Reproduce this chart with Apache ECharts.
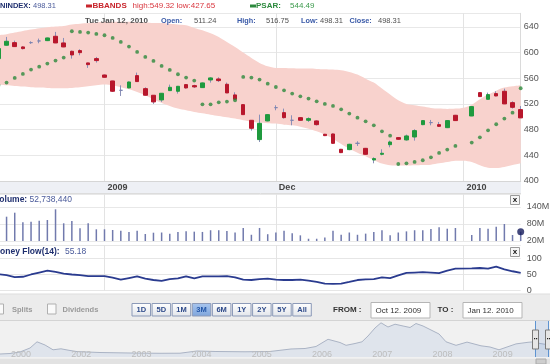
<!DOCTYPE html>
<html><head><meta charset="utf-8">
<script src="https://cdn.jsdelivr.net/npm/echarts@6/dist/echarts.min.js"></script>
<style>html,body{margin:0;padding:0;background:#fff}#c{width:550px;height:364px}</style>
</head><body><div id="c"></div>
<script>
// ---------- data ----------
const dates = ['2009-10-14','2009-10-15','2009-10-16','2009-10-19','2009-10-20','2009-10-21','2009-10-22','2009-10-23','2009-10-26','2009-10-27','2009-10-28','2009-10-29','2009-10-30',
'2009-11-02','2009-11-03','2009-11-04','2009-11-05','2009-11-06','2009-11-09','2009-11-10','2009-11-11','2009-11-12','2009-11-13','2009-11-16','2009-11-17','2009-11-18','2009-11-19','2009-11-20','2009-11-23','2009-11-24','2009-11-25','2009-11-26','2009-11-27','2009-11-30',
'2009-12-01','2009-12-02','2009-12-03','2009-12-04','2009-12-07','2009-12-08','2009-12-09','2009-12-10','2009-12-11','2009-12-14','2009-12-15','2009-12-16','2009-12-17','2009-12-18','2009-12-21','2009-12-22','2009-12-23','2009-12-24','2009-12-25','2009-12-28','2009-12-29','2009-12-30','2009-12-31',
'2010-01-01','2010-01-04','2010-01-05','2010-01-06','2010-01-07','2010-01-08','2010-01-11','2010-01-12'];
const monthTickDates = ['2009-11-02','2009-12-01','2010-01-01'];
const monthTickLabels = ['2009','Dec','2010'];

const open = [590.7,611.5,615.6,608.9,615.6,618.2,618.7,625.5,615.1,602.1,603.2,584.0,590.7,565.2,555.9,541.3,545.0,564.2,543.9,533.6,526.3,540.8,539.8,550.2,548.6,545.5,557.4,559.0,550.7,534.1,519.0,494.6,464.5,493.6,514.3,506.5,494.6,498.7,494.6,493.6,472.8,473.3,449.4,448.9,458.7,450.9,432.8,441.6,456.6,467.6,464.0,468.6,487.8,491.0,487.8,483.1,502.4,null,501.3,537.7,527.3,536.2,539.8,522.1,511.24];
const close = [606.3,617.7,609.4,606.3,615.6,618.2,622.9,615.1,608.9,596.4,600.0,581.3,587.6,561.6,539.8,541.3,554.3,554.9,533.6,523.2,536.7,546.0,547.6,545.0,546.6,552.8,560.6,556.4,537.2,527.3,503.4,482.1,489.9,503.4,514.3,498.7,494.6,494.6,497.2,487.8,470.7,458.7,444.2,457.2,458.7,441.6,434.9,443.2,460.8,465.0,470.2,478.5,494.1,491.0,485.2,494.1,494.1,null,515.9,531.5,534.6,532.5,520.1,514.8,498.31];
const low = [589,611,609,605,613.6,614.6,618,614.8,608.5,590.7,595.9,576.2,584.5,561,538.7,532.5,544.5,554.6,533.3,520.1,523.2,540.5,536.2,544,545,545,553.3,554.3,537,525.8,503,478.5,460.8,493,510.2,497.2,486.8,494,492.0,486.5,470,458,443.5,448,454.6,441,427.6,440.0,452.5,464.5,462.9,462.9,487,486.8,484.2,482.5,493.5,null,501,531,527,532,519.8,512.8,498.31];
const high = [608,624.5,618.7,610,617.7,621.9,623.5,632.3,622.9,603.2,605.3,584.2,593.3,566,556.2,549.1,555,568.9,546.0,533.9,537,550.2,548,551,550,553.5,561.6,561.6,553.3,538.2,519.5,495,503.4,504,518,512.8,502.4,499.5,499.2,494.5,473.5,474,450,458,461.9,451.5,436.9,449.4,462.9,468.5,472.3,480.6,495,495.1,492.0,494.5,503,null,516.5,538.3,537.7,539.8,543.9,524.2,516.75];

const bbUpper = [627.1,628.6,631.2,633.8,635.9,638.0,639.5,640.6,641.6,644,645,646,647,648,648,648,648,647,647,646,646,645,644,642.6,638.5,634.9,630.2,624.5,616.7,608.9,600.1,591.7,584.0,578.8,576.2,576.2,575.6,575.1,575.1,574.6,574.1,573.6,572.5,569.9,565.8,559.5,553.3,544.0,534.6,525.8,520.0,518.0,515.9,513.8,512.8,512.3,512.8,514.3,519.0,527.3,534.6,540.8,545.5,547.6,549.32];
const bbLower = [550.2,549.1,548.1,547.1,546.0,545.5,545.0,544.5,544.5,545.0,546.0,547.6,549.1,550.2,549.1,546.0,542.9,538.7,533.6,527.3,521.6,516.9,512.8,510.2,507.6,505.5,503.4,501.3,499.3,497.2,494.6,492.5,491.0,489.9,489.4,487.8,486.8,484.7,481.6,477.4,472.3,466.0,457.7,450.4,444.2,438.5,432.3,427.1,424.5,424.0,424.0,424.5,425.0,425.5,427.6,429.6,431.7,431.7,429.6,424.5,420.8,420.3,421.9,425.0,427.65];
const psar = [549.2,553.3,560.6,566.8,573.6,578.2,582.9,587.6,592.3,633.3,632.3,631.2,629.1,627.1,622.9,616.7,609.4,601.1,593.3,587.1,579.3,573.0,566.3,561.1,556.4,519.5,519.5,522.6,523.7,525.8,562.1,561.1,558.0,551.7,546.5,541.3,536.2,532.0,528.4,524.2,520.1,517.0,511.7,505.0,498.7,493.0,486.8,477.4,470.7,426.5,427.6,429.7,432.3,436.9,443.7,448.9,454.6,null,459.8,468.1,479.0,488.4,497.2,506.5,544.49];
const volumeM = [80,105.8,119.9,86.0,88.1,91.7,94.1,131.9,82.5,90.6,64.8,82.5,61.3,61.3,58.8,56.4,51.8,56.4,44.7,49.3,50,46,52,54,53,52,58,58,55,50,66,42,66,44,50,56,47,40,28,28,32,56,42,50,42,46,52,58,40,50,54,58,58,62,68.4,63.4,65.9,null,41.2,65.9,63.4,70.5,80.0,41.2,52.73844];
const moneyFlow = [51,48,42,43,50,56,62,58,53,50,48,45,45,45,40,34,39,44,37,33,30,36,38,44,38,44,44,44,45,41,34,33,36,37,34,33,33,34,31,27,22,21,22,27,33,35,36,41,39,47,55,56,57,56,54,62,68,null,69,70,68,74,66,60,55.18];

const navT = [-0.349,-0.183,-0.017,0.150,0.266,0.399,0.532,0.664,0.814,0.930,1.312,1.811,2.309,2.641,2.924,3.223,3.721,4.136,4.485,4.718,4.900,5.100,5.299,5.399,5.548,5.664,5.764,5.880,5.980,6.096,6.213,6.346,6.462,6.561,6.678,6.827,6.944,7.060,7.226,7.409,7.641,7.791,7.940,8.073,8.223,8.422,8.522,8.621,8.787];
const navV = [108,126,181,325,549,433,260,296,235,195,162,144,134,137,217,199,188,199,289,307,379,639,523,422,487,549,758,1047,1235,1083,1184,1119,1065,1209,1119,957,830,549,422,538,404,361,260,361,473,531,549,487,433];
const navTickLabels = ['2000','2002','2003','2004','2005','2006','2007','2008','2009'];
const rangeButtons = ['1D','5D','1M','3M','6M','1Y','2Y','5Y','All'];

// ---------- build ----------
const FONT = 'Liberation Sans, Arial, sans-serif';
const last = dates.length - 1;
const wickData = open.map((o,i) => o == null ? ['-','-','-','-'] : [o, close[i], low[i], high[i]]);
const bodyData = open.map((o,i) => o == null ? ['-','-','-','-'] : [o, close[i], Math.min(o,close[i]), Math.max(o,close[i])]);
const bandDiff = bbUpper.map((u,i) => +(u - bbLower[i]).toFixed(2));
const volData = volumeM.map(v => v == null ? '-' : v * 1e6);
const volDot = volumeM.map((v,i) => i === last ? v * 1e6 : '-');
const isMonth = (idx, val) => monthTickDates.indexOf(val) >= 0;

const chart = echarts.init(document.getElementById('c'), null, {renderer:'canvas'});

const grids = [
  {left:-1.6, right:29.3, top:13.3, height:167.7},
  {left:-1.6, right:29.3, top:194, height:47},
  {left:-1.6, right:29.3, top:245, height:45.7},
  {left:0, right:0, top:321, height:36}
].map(g => Object.assign({containLabel:false, outerBoundsMode:'none'}, g));

const catAxis = (gi, showLabel) => ({
  type:'category', gridIndex:gi, data:dates, boundaryGap:false,
  axisLine:{show:gi===0, lineStyle:{color:'#d6d6d6'}},
  axisTick:{show:false},
  axisLabel:{show:showLabel, interval:isMonth, align:'left', padding:[0,0,0,3], margin:2,
    fontFamily:FONT, fontSize:9, fontWeight:'bold', color:'#444',
    formatter:(v)=> monthTickLabels[monthTickDates.indexOf(v)] || ''},
  splitLine:{show:true, interval:isMonth, lineStyle:{color:'#e3e3e3', width:1}}
});

const gfx = [];
function txt(x,y,text,font,fill,align){ gfx.push({type:'text', z:100, silent:true, style:{x,y,text,font,fill,align:align||'left',verticalAlign:'middle'}}); }
function rect(x,y,w,h,fill,stroke,z){ gfx.push({type:'rect', z:z==null?-1:z, silent:true, shape:{x,y,width:w,height:h}, style:{fill, stroke:stroke||null, lineWidth:1}}); }
function line(x1,y1,x2,y2,stroke,z){ gfx.push({type:'line', z:z==null?50:z, silent:true, shape:{x1,y1,x2,y2}, style:{stroke, lineWidth:1}}); }

// header row 1
txt(0,6,'NINDEX:','bold 7.5px '+FONT,'#1f2f6f');
txt(33,6,close[last].toFixed(2),'7.5px '+FONT,'#4a5a9a');
rect(86,4.5,6,3,'#c8252c',null,100);
txt(92.5,6,'BBANDS','bold 8px '+FONT,'#c8252c');
txt(132.5,6,'high:'+bbUpper[last].toFixed(2)+' low:'+bbLower[last].toFixed(2),'8px '+FONT,'#d9363e');
rect(250,4.5,6,3,'#2d8a3e',null,100);
txt(256,6,'PSAR:','bold 8px '+FONT,'#2d8a3e');
txt(290,6,psar[last].toFixed(2),'8px '+FONT,'#3c9a4c');
// header row 2
txt(85,20.5,'Tue Jan 12, 2010','bold 8px '+FONT,'#505050');
txt(161,20.5,'Open:','bold 7.3px '+FONT,'#3a5aa8');
txt(194,20.5,open[last].toFixed(2),'7.5px '+FONT,'#505050');
txt(237,20.5,'High:','bold 7.3px '+FONT,'#3a5aa8');
txt(266,20.5,high[last].toFixed(2),'7.5px '+FONT,'#505050');
txt(301,20.5,'Low:','bold 7.3px '+FONT,'#3a5aa8');
txt(320,20.5,low[last].toFixed(2),'7.5px '+FONT,'#505050');
txt(349.5,20.5,'Close:','bold 7.3px '+FONT,'#3a5aa8');
txt(378,20.5,close[last].toFixed(2),'7.5px '+FONT,'#505050');

// x label band
rect(0,181.5,521,11.5,'#eef0f5',null,-1);
line(0,193.5,521,193.5,'#dcdcdc',-1);
// volume header
txt(-5.7,199.5,'Volume:','bold 8.5px '+FONT,'#1f2f6f');
txt(29.5,199.5,Math.round(volumeM[last]*1e6).toLocaleString('en-US'),'8.5px '+FONT,'#4a5a9a');
// money flow header
txt(-7,251.5,'Money Flow(14):','bold 8.5px '+FONT,'#1f2f6f');
txt(65,251.5,moneyFlow[last].toFixed(2),'8.5px '+FONT,'#4a5a9a');
// close buttons
[195.5,247.5].forEach(y=>{ rect(510.5,y,9,9,'#f6f6f6','#9a9a9a',90); txt(515,y+4.7,'x','bold 8px '+FONT,'#111','center'); });

// toolbar
rect(0,294,550,26,'#ececec',null,-2);
line(0,294,550,294,'#dddddd',-1);
rect(-4,304,7.5,10,'#fafafa','#b0b0b0',5);
txt(12,309.5,'Splits','bold 7.5px '+FONT,'#9a9a9a');
rect(47.5,304,8.5,10,'#fafafa','#b0b0b0',5);
txt(62.5,309.5,'Dividends','bold 7.5px '+FONT,'#9a9a9a');
rangeButtons.forEach((b,k)=>{
  const x = 132 + k*20.1, sel = b==='3M';
  gfx.push({type:'rect', z:5, silent:true, shape:{x:x, y:303.5, width:18.5, height:12.5},
    style:{fill: sel ? new echarts.graphic.LinearGradient(0,0,0,1,[{offset:0,color:'#a9c6ee'},{offset:1,color:'#7ea5dc'}])
                     : new echarts.graphic.LinearGradient(0,0,0,1,[{offset:0,color:'#ffffff'},{offset:1,color:'#e2e5ea'}]),
           stroke:'#8c9ab8', lineWidth:1}});
  gfx.push({type:'text', z:6, silent:true, style:{x:x+9.25, y:310, text:b, font:'bold 7.5px '+FONT, fill: sel ? '#2457a8' : '#2f4b8a', align:'center', verticalAlign:'middle'}});
});
txt(333,310,'FROM :','bold 8px '+FONT,'#333');
rect(371,302.5,59,15.5,'#ffffff','#b5b5b5',5);
txt(375.5,310.5,'Oct 12. 2009','8px '+FONT,'#333');
txt(437.5,310,'TO :','bold 8px '+FONT,'#333');
rect(463,302.5,59,15.5,'#ffffff','#b5b5b5',5);
txt(467.5,310.5,'Jan 12. 2010','8px '+FONT,'#333');

// navigator frame
rect(0,320,550,38.5,'#f1f1f1',null,-2);
line(0,320.5,550,320.5,'#d4d4d4',-1);
rect(0,358.5,550,6,'#e2e2e2',null,-1);
rect(536,359,10,5,'#cdcdcd','#aaaaaa',60);
rect(535.5,321,13,36,'rgba(110,150,210,0.18)',null,60);
line(535.5,321,535.5,357,'#5d93d1',61);
line(548.5,321,548.5,357,'#5d93d1',61);
rect(532.5,330,6,19,'#e6e6e6','#7a7a7a',62);
rect(545.5,330,6,19,'#e6e6e6','#7a7a7a',62);
[[534,338],[536,338],[547,338],[549,338]].forEach(p=>rect(p[0],p[1],1.2,1.2,'#222',null,63));

const option = {
  animation:false,
  backgroundColor:'#ffffff',
  grid: grids,
  xAxis: [
    catAxis(0,true), catAxis(1,false), catAxis(2,false),
    {type:'value', gridIndex:3, min:navT[0], max:navT[navT.length-1], z:10,
     axisLine:{show:false}, axisTick:{show:false}, splitLine:{show:false},
     axisLabel:{show:true, customValues:navTickLabels.map((_,k)=>k), margin:-7, hideOverlap:false,
       fontFamily:FONT, fontSize:9, color:'#bdbdbd', formatter:(v)=> navTickLabels[Math.round(v)] || ''}}
  ],
  yAxis: [
    {type:'value', gridIndex:0, position:'right', min:400, max:661.3, interval:40,
     axisLine:{show:true, lineStyle:{color:'#dadada'}}, axisTick:{show:false},
     axisLabel:{margin:3, fontFamily:FONT, fontSize:9, color:'#555', showMaxLabel:false},
     splitLine:{lineStyle:{color:'#e8e8e8'}}},
    {type:'value', gridIndex:1, position:'right', min:20e6, max:185.9e6, interval:60e6,
     axisLine:{show:false}, axisTick:{show:false},
     axisLabel:{margin:6, fontFamily:FONT, fontSize:9, color:'#555', showMaxLabel:false, formatter:(v)=> (v/1e6)+'M'},
     splitLine:{lineStyle:{color:'#e8e8e8'}}},
    {type:'value', gridIndex:2, position:'right', min:0, max:141, interval:50,
     axisLine:{show:false}, axisTick:{show:false},
     axisLabel:{margin:6, fontFamily:FONT, fontSize:9, color:'#555', showMaxLabel:false},
     splitLine:{lineStyle:{color:'#e6e6e6'}}},
    {type:'value', gridIndex:3, min:0, max:1300, show:false}
  ],
  series: [
    {type:'line', xAxisIndex:0, yAxisIndex:0, stack:'bb', data:bbLower, smooth:0.3, symbol:'none', silent:true, z:1,
     lineStyle:{opacity:0}},
    {type:'line', xAxisIndex:0, yAxisIndex:0, stack:'bb', data:bandDiff, smooth:0.3, symbol:'none', silent:true, z:1,
     lineStyle:{opacity:0}, areaStyle:{color:'#f8d2cd', opacity:1}},
    {type:'candlestick', xAxisIndex:0, yAxisIndex:0, data:wickData, barWidth:1, clip:false, z:3,
     itemStyle:{color:'#8a90b8', color0:'#8a90b8', borderColor:'#8a90b8', borderColor0:'#8a90b8', borderColorDoji:'#8a90b8', borderWidth:1}},
    {type:'candlestick', xAxisIndex:0, yAxisIndex:0, data:bodyData, barWidth:4, clip:false, z:4,
     itemStyle:{color:'#1f9a3e', color0:'#b8172c', borderColor:'#1f9a3e', borderColor0:'#b8172c', borderColorDoji:'#7d84b0', borderWidth:1}},
    {type:'scatter', xAxisIndex:0, yAxisIndex:0, data:psar, symbol:'circle', symbolSize:3.8, z:5,
     itemStyle:{color:'#2c8a3c'}},
    {type:'bar', xAxisIndex:1, yAxisIndex:1, data:volData, barWidth:1.5, clip:true,
     itemStyle:{color:'#717aad'}},
    {type:'scatter', xAxisIndex:1, yAxisIndex:1, data:volDot, symbol:'circle', symbolSize:7, z:6,
     itemStyle:{color:'#151b5c'}},
    {type:'line', xAxisIndex:2, yAxisIndex:2, data:moneyFlow, connectNulls:true, symbol:'none',
     lineStyle:{color:'#2a3b8f', width:1.8}},
    {type:'line', xAxisIndex:3, yAxisIndex:3, data:navT.map((t,i)=>[t,navV[i]]), symbol:'none', silent:true, z:1,
     lineStyle:{color:'#aab3c4', width:1}, areaStyle:{color:'#dfe4ec', opacity:1}}
  ],
  graphic: gfx
};
chart.setOption(option);
</script></body></html>
